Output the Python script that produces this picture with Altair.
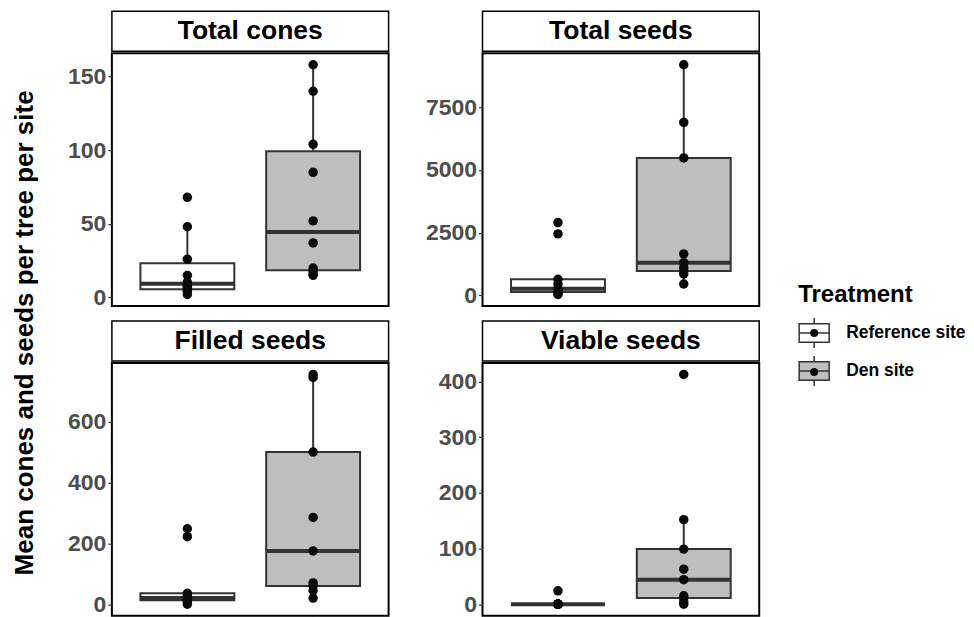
import altair as alt
import pandas as pd
import numpy as np

FONT = "Liberation Sans"

treatments = ["Reference site", "Den site"]
panel_titles = ["Total cones", "Total seeds", "Filled seeds", "Viable seeds"]

cones_ref = [2, 4, 5, 7, 8, 10.5, 15, 26, 48, 68]
cones_den = [15, 16, 18, 20, 37, 52, 85, 104, 140, 158]
seeds_ref = [30, 80, 133, 200, 265, 450, 637, 2450, 2900]
seeds_den = [450, 850, 968, 1100, 1300, 1650, 5483, 6900, 9200]
filled_ref = [0, 8, 13, 17, 20, 30, 36, 222, 248]
filled_den = [20, 45, 60, 70, 175, 285, 500, 745, 755]
viable_ref = [0, 0, 0, 0, 0, 0, 0, 0, 24]
viable_den = [0, 4, 11, 15, 44, 63, 99, 152, 413]

y_ticks = [
    [0, 50, 100, 150],
    [0, 2500, 5000, 7500],
    [0, 200, 400, 600],
    [0, 100, 200, 300, 400],
]

series = [
    (cones_ref, cones_den),
    (seeds_ref, seeds_den),
    (filled_ref, filled_den),
    (viable_ref, viable_den),
]

PW, PH, SH = 277, 253, 40

fill_scale = alt.Scale(domain=treatments, range=["#ffffff", "#bebebe"])
# reversed domain so the dot legend stays a separate legend (all dots identical)
shape_scale = alt.Scale(domain=treatments[::-1], range=["circle", "circle"])

LX, LY = 687, 272
box_legend = alt.Legend(
    title="Treatment", orient="none", legendX=LX, legendY=LY, padding=0,
    symbolType="M-1,-0.62H1V0.62H-1Z M-1,0H1 M0,-0.62V-1 M0,0.62V1",
    symbolSize=900, symbolStrokeColor="#333333", symbolStrokeWidth=1.5,
    titleFont=FONT, titleFontSize=24, titleFontWeight="bold", titleColor="black",
    labelFont=FONT, labelFontSize=17.5, labelFontWeight="bold", labelColor="black",
    titlePadding=10, rowPadding=2, labelOffset=16,
)
dot_legend = alt.Legend(
    title=" ", orient="none", legendX=LX, legendY=LY, padding=0,
    symbolType="circle", symbolSize=64, symbolFillColor="black",
    symbolStrokeWidth=0, symbolOpacity=1,
    titleFont=FONT, titleFontSize=24, titleFontWeight="bold", titleOpacity=0,
    labelFont=FONT, labelFontSize=32, labelOpacity=0, labelExpr="' '",
    titlePadding=10, rowPadding=7, labelOffset=16,
)


def box_stats(vals):
    a = np.array(vals, dtype=float)
    q1, med, q3 = np.percentile(a, [25, 50, 75])
    iqr = q3 - q1
    lo = a[a >= q1 - 1.5 * iqr].min()
    hi = a[a <= q3 + 1.5 * iqr].max()
    return dict(q1=q1, med=med, q3=q3, lo=lo, hi=hi)


def panel(title, ref, den, ticks, bottom):
    pts = pd.DataFrame({
        "Treatment": [treatments[0]] * len(ref) + [treatments[1]] * len(den),
        "value": list(ref) + list(den),
    })
    stats = pd.DataFrame([dict(Treatment=t, **box_stats(v)) for t, v in zip(treatments, [ref, den])])
    allv = list(ref) + list(den)
    vmin, vmax = min(allv), max(allv)
    pad = 0.05 * (vmax - vmin)
    y_scale = alt.Scale(domain=[vmin - pad, vmax + pad], nice=False, zero=False)
    y_axis = alt.Axis(values=ticks, format="d", title=None, grid=False, domain=False, tickSize=4,
                      labelPadding=2, minExtent=60, maxExtent=60)
    if bottom:
        x_axis = alt.Axis(labels=False, ticks=True, tickSize=4, domain=False, title=None, grid=False)
    else:
        x_axis = None
    x = alt.X("Treatment:N", sort=treatments,
              scale=alt.Scale(domain=treatments, type="point", padding=0.6), axis=x_axis)

    def Y(f):
        return alt.Y(f, type="quantitative", scale=y_scale, axis=y_axis)

    base = alt.Chart(stats)
    w_lo = base.mark_rule(color="#333333", strokeWidth=2).encode(x=x, y=Y("lo"), y2="q1")
    w_hi = base.mark_rule(color="#333333", strokeWidth=2).encode(x=x, y=Y("q3"), y2="hi")
    box = base.mark_bar(size=94, stroke="#333333", strokeWidth=2, opacity=1).encode(
        x=x, y=Y("q1"), y2="q3",
        fill=alt.Fill("Treatment:N", scale=fill_scale, legend=box_legend),
    )
    med = base.mark_tick(size=94, thickness=4, color="#333333", opacity=1).encode(x=x, y=Y("med"))
    dots = alt.Chart(pts).mark_point(filled=True, size=90, color="#0a0a0a", opacity=1).encode(
        x=x, y=Y("value"),
        shape=alt.Shape("Treatment:N", scale=shape_scale, legend=dot_legend),
    )
    plot = alt.layer(w_lo, w_hi, box, med, dots).properties(
        width=PW, height=PH, view=alt.ViewBackground(stroke="black", strokeWidth=2)
    )
    strip = alt.Chart(pd.DataFrame({"label": [title]})).mark_text(
        font=FONT, fontSize=26.5, fontWeight="bold", color="black"
    ).encode(text="label:N").properties(
        width=PW, height=SH, view=alt.ViewBackground(stroke="black", strokeWidth=1.5)
    )
    return alt.vconcat(strip, plot, spacing=0)


panels = [panel(panel_titles[i], series[i][0], series[i][1], y_ticks[i], i >= 2) for i in range(4)]
row1 = alt.hconcat(panels[0], panels[1], spacing=32)
row2 = alt.hconcat(panels[2], panels[3], spacing=32)

chart = alt.vconcat(
    row1, row2, spacing=9,
    title=alt.TitleParams(
        text="Mean cones and seeds per tree per site", orient="left", anchor="middle",
        font=FONT, fontSize=26, fontWeight="bold", color="black", offset=13, dx=-17,
    ),
).properties(
    padding={"left": 3, "top": 2, "right": 0, "bottom": 0}
).configure_axis(
    labelFont=FONT, labelFontSize=23, labelFontWeight="bold", labelColor="#4d4d4d",
    tickColor="#333333", tickWidth=1.2,
).configure_view(stroke=None)

chart.save("out.html", embed_options={"renderer": "svg", "actions": False})
